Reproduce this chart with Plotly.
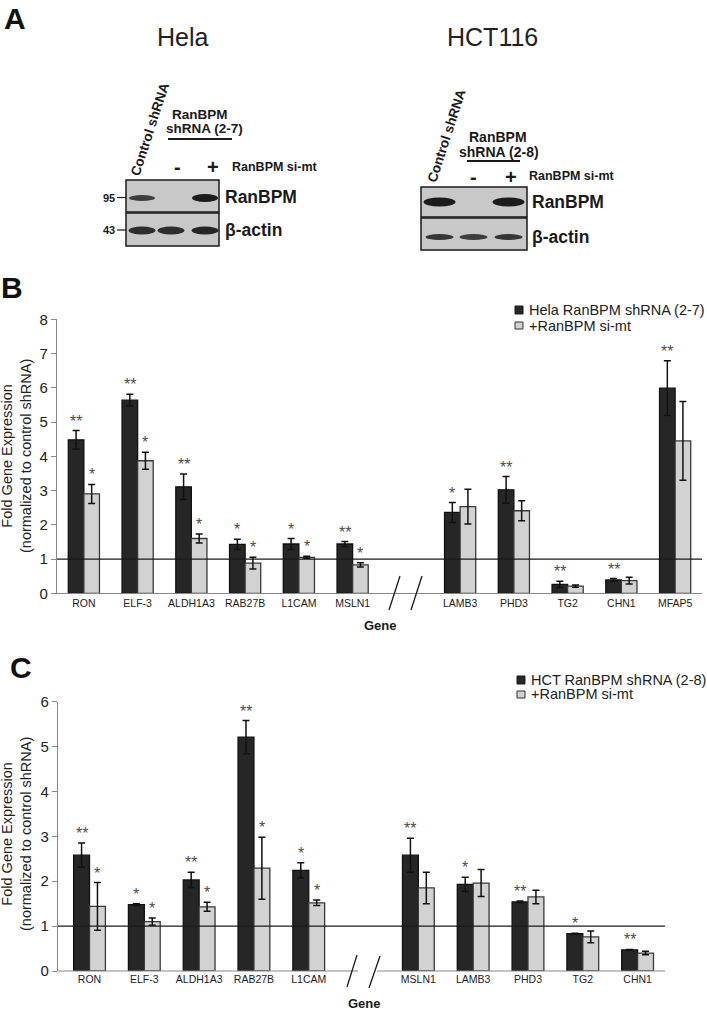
import plotly.graph_objects as go

W, H = 707, 1018
FONT = "Arial, Liberation Sans, sans-serif"

# ---------------- Panel B data (Hela) ----------------
genes_b = ["RON", "ELF-3", "ALDH1A3", "RAB27B", "L1CAM", "MSLN1",
           "LAMB3", "PHD3", "TG2", "CHN1", "MFAP5"]
break_b = 6
series_b = ["Hela RanBPM shRNA (2-7)", "+RanBPM si-mt"]
hela_sh = [4.48, 5.64, 3.11, 1.43, 1.44, 1.44, 2.36, 3.02, 0.26, 0.39, 5.99]
hela_sh_err = [0.27, 0.17, 0.37, 0.15, 0.16, 0.07, 0.29, 0.39, 0.09, 0.04, 0.80]
hela_mt = [2.90, 3.87, 1.60, 0.88, 1.05, 0.83, 2.53, 2.41, 0.21, 0.37, 4.45]
hela_mt_err = [0.28, 0.25, 0.13, 0.17, 0.03, 0.06, 0.51, 0.29, 0.03, 0.10, 1.15]
hela_sh_sig = ["**", "**", "**", "*", "*", "**", "*", "**", "**", "**", "**"]
hela_mt_sig = ["*", "*", "*", "*", "*", "*", "", "", "", "", ""]

# ---------------- Panel C data (HCT116) ----------------
genes_c = ["RON", "ELF-3", "ALDH1A3", "RAB27B", "L1CAM",
           "MSLN1", "LAMB3", "PHD3", "TG2", "CHN1"]
break_c = 5
series_c = ["HCT RanBPM shRNA (2-8)", "+RanBPM si-mt"]
hct_sh = [2.58, 1.48, 2.03, 5.21, 2.24, 2.58, 1.93, 1.54, 0.83, 0.47]
hct_sh_err = [0.27, 0.02, 0.17, 0.37, 0.17, 0.38, 0.16, 0.02, 0.01, 0.01]
hct_mt = [1.44, 1.10, 1.43, 2.29, 1.52, 1.85, 1.96, 1.65, 0.76, 0.40]
hct_mt_err = [0.53, 0.08, 0.10, 0.69, 0.06, 0.35, 0.30, 0.15, 0.13, 0.04]
hct_sh_sig = ["**", "*", "**", "**", "*", "**", "*", "**", "*", "**"]
hct_mt_sig = ["*", "*", "*", "*", "*", "", "", "", "", ""]

# ---------------- Panel A (western blot band intensities) ----------------
lanes = ["Control shRNA", "-", "+"]
hela_ranbpm_band = [0.8, 0.0, 1.0]
hela_actin_band = [0.9, 0.9, 0.95]
hct_ranbpm_band = [1.0, 0.0, 1.0]
hct_actin_band = [0.85, 0.8, 0.85]

DARK = "#262626"
LIGHT = "#d2d2d2"
BW = 0.29

fig = go.Figure()


def px(x):
    return x / W


def py(y):
    return 1 - y / H


def ann(x, y, text, size, color="#1a1a1a", angle=0, xanchor="center", yanchor="middle"):
    fig.add_annotation(x=px(x), y=py(y), xref="paper", yref="paper", text=text,
                       showarrow=False, textangle=angle, xanchor=xanchor, yanchor=yanchor,
                       font=dict(size=size, family=FONT, color=color))


def pline(x0, y0, x1, y1, color="#1a1a1a", width=1.5):
    fig.add_shape(type="line", xref="paper", yref="paper", x0=px(x0), y0=py(y0),
                  x1=px(x1), y1=py(y1), line=dict(color=color, width=width))


def prect(x0, y0, x1, y1, fill, color="#1a1a1a", width=1.5):
    fig.add_shape(type="rect", xref="paper", yref="paper", x0=px(x0), y0=py(y0),
                  x1=px(x1), y1=py(y1), fillcolor=fill, line=dict(color=color, width=width))


def band(x0, x1, yc, h, a):
    if a <= 0:
        return
    fig.add_shape(type="circle", xref="paper", yref="paper", x0=px(x0), x1=px(x1),
                  y0=py(yc + h / 2), y1=py(yc - h / 2), fillcolor="#1c1c1c",
                  opacity=a, line=dict(width=0))


# ---------- bar panels ----------
def add_panel(genes, brk, vals1, err1, vals2, err2, sig1, sig2, xa, ya, names):
    pos = [i if i < brk else i + 1 for i in range(len(genes))]
    fig.add_trace(go.Bar(x=pos, y=vals1, width=BW, offset=-BW, name=names[0],
                         marker=dict(color=DARK, line=dict(color="#111111", width=1.3)),
                         error_y=dict(type="data", array=err1, color="#111111",
                                      thickness=1.5, width=3.5),
                         xaxis=xa, yaxis=ya, showlegend=False))
    fig.add_trace(go.Bar(x=pos, y=vals2, width=BW, offset=0, name=names[1],
                         marker=dict(color=LIGHT, line=dict(color="#3a3a3a", width=1.3)),
                         error_y=dict(type="data", array=err2, color="#111111",
                                      thickness=1.5, width=3.5),
                         xaxis=xa, yaxis=ya, showlegend=False))
    for p, v, e, s in zip(pos, vals1, err1, sig1):
        if s:
            fig.add_annotation(x=p - BW / 2, y=v + e, xref=xa, yref=ya, text=s,
                               showarrow=False, yanchor="bottom", yshift=-1,
                               font=dict(size=16, family=FONT, color="#4d4d4d"))
    for p, v, e, s in zip(pos, vals2, err2, sig2):
        if s:
            fig.add_annotation(x=p + BW / 2, y=v + e, xref=xa, yref=ya, text=s,
                               showarrow=False, yanchor="bottom", yshift=-1,
                               font=dict(size=16, family=FONT, color="#4d4d4d"))
    return pos


pos_b = add_panel(genes_b, break_b, hela_sh, hela_sh_err, hela_mt, hela_mt_err,
                  hela_sh_sig, hela_mt_sig, "x", "y", series_b)
pos_c = add_panel(genes_c, break_c, hct_sh, hct_sh_err, hct_mt, hct_mt_err,
                  hct_sh_sig, hct_mt_sig, "x2", "y2", series_c)

axis_common = dict(showgrid=False, zeroline=False, automargin=False)
fig.update_layout(
    xaxis=dict(domain=[57 / W, 702 / W], range=[-0.5, 11.5], tickvals=pos_b, ticktext=genes_b,
               showline=True, linecolor="#888888", linewidth=1.2, ticks="",
               tickfont=dict(size=10.5, family=FONT, color="#222222"), anchor="y", **axis_common),
    yaxis=dict(domain=[py(593.3), py(319.3)], range=[0, 8], dtick=1, showline=True,
               linecolor="#888888", linewidth=1.2, ticks="outside", ticklen=5,
               tickcolor="#888888", tickfont=dict(size=15, family=FONT, color="#222222"),
               anchor="x", **axis_common),
    xaxis2=dict(domain=[58 / W, 665 / W], range=[-0.575, 10.5], tickvals=pos_c, ticktext=genes_c,
                showline=False, ticks="",
                tickfont=dict(size=10.5, family=FONT, color="#222222"), anchor="y2", **axis_common),
    yaxis2=dict(domain=[py(971), py(701.7)], range=[0, 6], dtick=1, showline=True,
                linecolor="#888888", linewidth=1.2, ticks="outside", ticklen=5,
                tickcolor="#888888", tickfont=dict(size=15, family=FONT, color="#222222"),
                anchor="x2", **axis_common),
    barmode="overlay",
    width=W, height=H,
    margin=dict(l=0, r=0, t=0, b=0),
    paper_bgcolor="white", plot_bgcolor="white",
    showlegend=False,
)

# reference lines at y = 1
fig.add_shape(type="line", xref="x domain", yref="y", x0=0, x1=1, y0=1, y1=1,
              line=dict(color="#1a1a1a", width=1.2))
fig.add_shape(type="line", xref="x2 domain", yref="y2", x0=0, x1=1, y0=1, y1=1,
              line=dict(color="#1a1a1a", width=1.2))

# C x-axis baseline with break gap
pline(58, 971, 358, 971, color="#888888", width=1.2)
pline(377, 971, 665, 971, color="#888888", width=1.2)

# break slashes
pline(389, 610, 400, 576, width=1.3)
pline(411, 610, 422, 576, width=1.3)
pline(347, 987, 357, 955, width=1.3)
pline(369, 988, 380, 956, width=1.3)

# axis titles
ytitle = "Fold Gene Expression<br>(normalized to control shRNA)"
ann(16, 456, ytitle, 14.5, color="#222222", angle=-90)
ann(16, 834, ytitle, 14.5, color="#222222", angle=-90)
ann(381, 625, "<b>Gene</b>", 13)
ann(364, 1003, "<b>Gene</b>", 13)

# legends
prect(515, 306, 523, 314, DARK, width=1)
prect(515, 322, 523, 329, LIGHT, color="#333333", width=1)
ann(527, 310, series_b[0], 14.5, color="#222222", xanchor="left")
ann(527, 326, series_b[1], 14.5, color="#222222", xanchor="left")
prect(517, 676, 525, 684, DARK, width=1)
prect(517, 691, 525, 698, LIGHT, color="#333333", width=1)
ann(529, 680, series_c[0], 14.5, color="#222222", xanchor="left")
ann(529, 694, series_c[1], 14.5, color="#222222", xanchor="left")

# panel letters
ann(15, 19, "<b>A</b>", 30, color="#111111")
ann(12, 287, "<b>B</b>", 30, color="#111111")
ann(21, 667, "<b>C</b>", 30, color="#111111")

# ---------------- Panel A blots ----------------
ann(183, 37, "Hela", 25, color="#222222")
ann(492, 37, "HCT116", 25, color="#222222")

# Hela blot
ann(149.5, 129, "<b>" + lanes[0] + "</b>", 13.5, angle=-72)
ann(200, 115, "<b>RanBPM</b>", 13.5)
ann(204, 128, "<b>shRNA (2-7)</b>", 13.5)
pline(168, 139, 232, 139, width=2)
ann(177, 167, "<b>" + lanes[1] + "</b>", 20)
ann(213, 167, "<b>" + lanes[2] + "</b>", 20)
ann(230, 167, "<b>RanBPM si-mt</b>", 12.5, xanchor="left")
prect(126, 180, 219, 212, "#c8c8c8")
prect(126, 213, 219, 246, "#c8c8c8")
hela_lane_x = [142, 171, 205]
for lx, a in zip(hela_lane_x, hela_ranbpm_band):
    band(lx - 13, lx + 13, 198, 8 if a > 0.9 else 6, a)
for lx, a in zip(hela_lane_x, hela_actin_band):
    band(lx - 13.5, lx + 13.5, 230.5, 8, a)
ann(223, 197, "<b>RanBPM</b>", 17.5, xanchor="left")
ann(223, 230, "<b>β-actin</b>", 17.5, xanchor="left")
ann(109, 197.5, "<b>95</b>", 11)
pline(117, 197.5, 126, 197.5, width=1.2)
ann(109, 230, "<b>43</b>", 11)
pline(117, 230, 126, 230, width=1.2)

# HCT116 blot
ann(446, 136, "<b>" + lanes[0] + "</b>", 13.5, angle=-72)
ann(498, 137, "<b>RanBPM</b>", 14)
ann(499, 152, "<b>shRNA (2-8)</b>", 14)
pline(467, 161, 520, 161, width=2)
ann(473, 177, "<b>" + lanes[1] + "</b>", 20)
ann(511, 177, "<b>" + lanes[2] + "</b>", 20)
ann(527, 176, "<b>RanBPM si-mt</b>", 12.5, xanchor="left")
prect(421, 187, 527, 217, "#c8c8c8")
prect(421, 218, 527, 250, "#c8c8c8")
hct_lane_x = [439.5, 473.5, 508.5]
for lx, a in zip(hct_lane_x, hct_ranbpm_band):
    band(lx - 16, lx + 16, 202, 9, a)
for lx, a in zip(hct_lane_x, hct_actin_band):
    band(lx - 14, lx + 14, 237, 6, a)
ann(530, 202, "<b>RanBPM</b>", 17.5, xanchor="left")
ann(530, 237, "<b>β-actin</b>", 17.5, xanchor="left")

fig.write_html("out.html", config={"responsive": False, "displayModeBar": False},
               post_script="document.body.style.margin='0';document.body.style.overflow='hidden';")
